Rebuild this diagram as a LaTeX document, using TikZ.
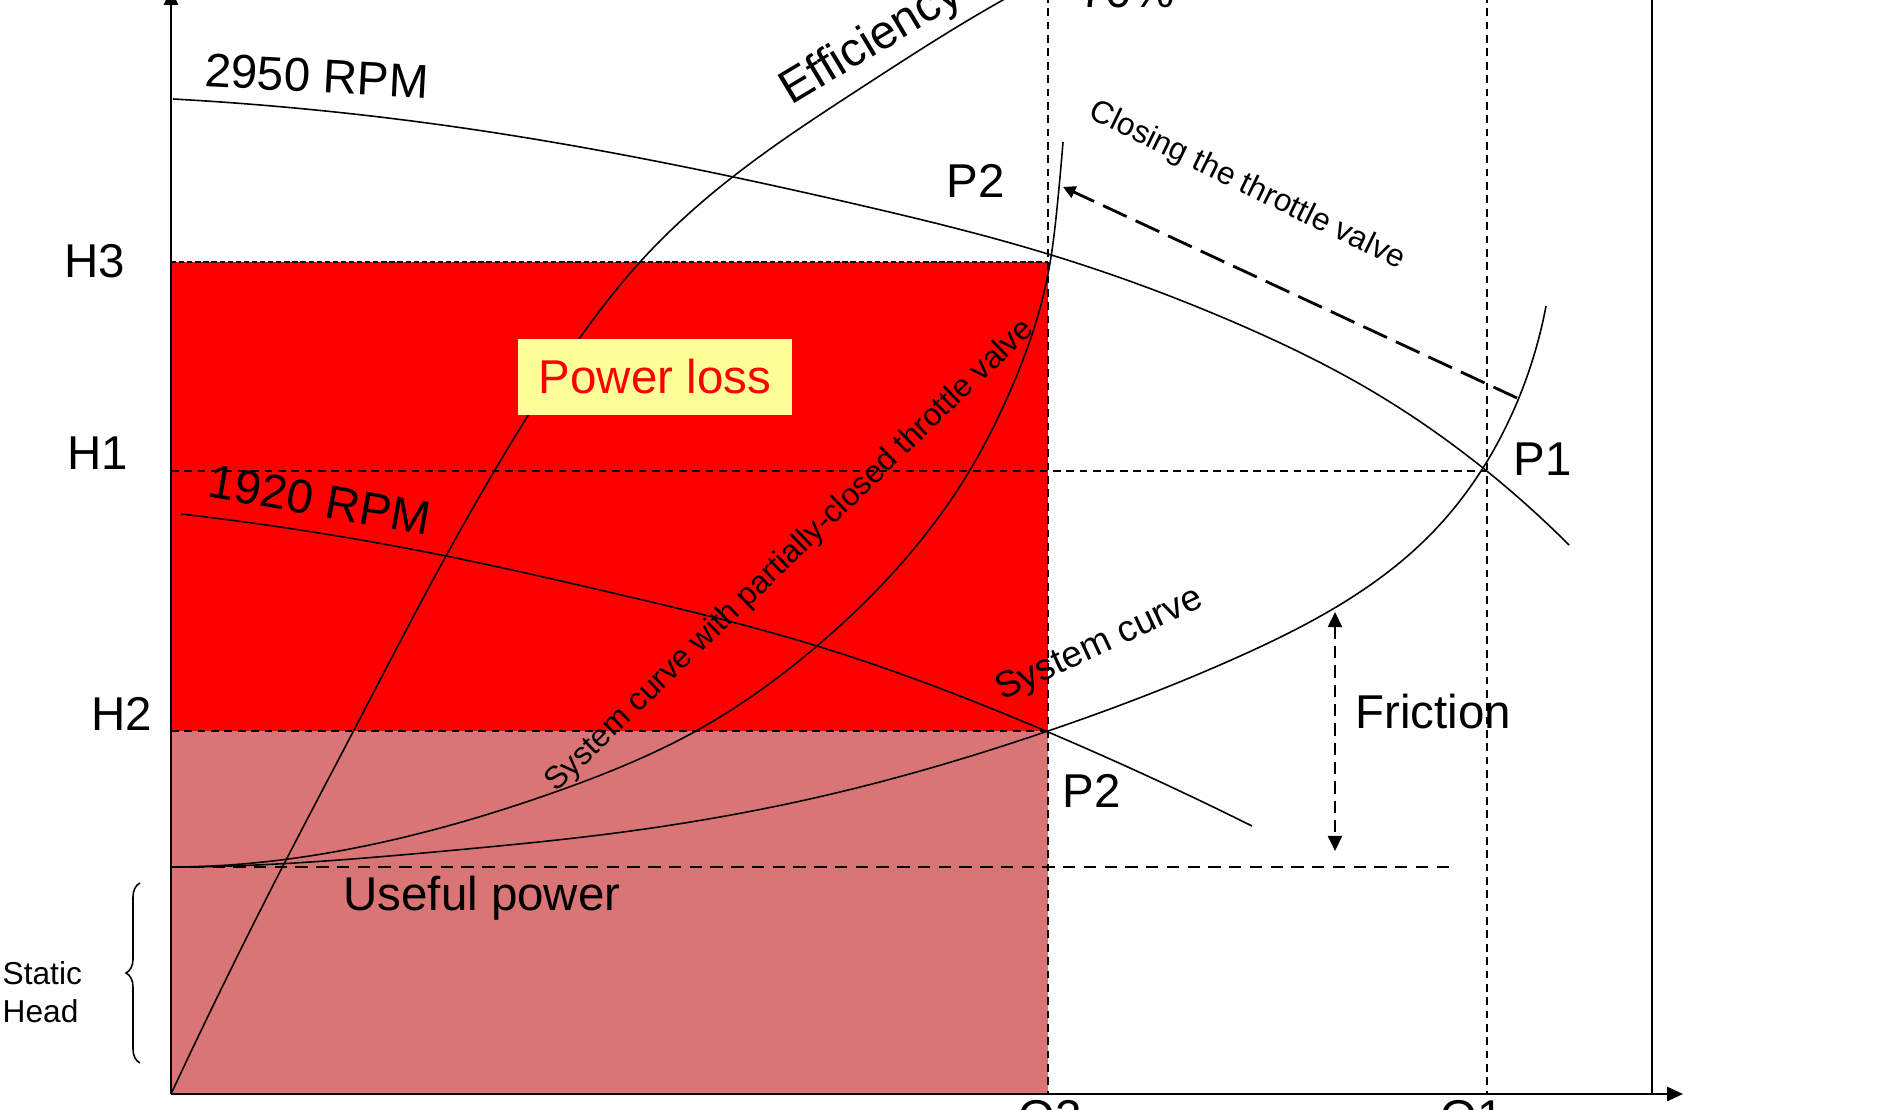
\documentclass[tikz,border=0pt]{standalone}
\usepackage{fontspec}
\setmainfont{Liberation Sans}
\usetikzlibrary{arrows.meta,decorations.pathreplacing,hobby}
\definecolor{lossred}{rgb}{1,0,0}
\definecolor{usefulpink}{RGB}{217,117,117}
\definecolor{labelyellow}{RGB}{255,255,153}

\begin{document}
\begin{tikzpicture}[
    x=0.01cm, y=-0.01cm,
    curve/.style={line width=0.45pt, use Hobby shortcut},
    axis/.style={line width=0.65pt, -{Triangle[length=4.5pt,width=4pt]}},
    guide/.style={line width=0.45pt, dash pattern=on 2.2pt off 1.6pt},
    biglabel/.style={font=\fontsize{13.5}{16}\selectfont, inner sep=0pt},
    smalllabel/.style={font=\fontsize{9}{10.8}\selectfont, inner sep=0pt}
    ]
  \useasboundingbox (0,0) rectangle (1883,1110);
  \clip (0,0) rectangle (1883,1110);

  % operating points
  \coordinate (O) at (171,1094);
  \coordinate (xend) at (1683,1094);
  \coordinate (yend) at (171,-11);
  \coordinate (H3) at (171,262);
  \coordinate (P2top) at (1048,262);
  \coordinate (H1) at (171,471);
  \coordinate (P1) at (1487,471);
  \coordinate (H2) at (171,731);
  \coordinate (P2) at (1048,731);
  \coordinate (S) at (171,867);
  \coordinate (Send) at (1456,867);
  \coordinate (Q2) at (1048,1094);
  \coordinate (Q2top) at (1048,-5);
  \coordinate (Q1) at (1487,1094);
  \coordinate (Q1top) at (1487,-5);
  \coordinate (frame) at (1652,1094);
  \coordinate (frametop) at (1652,-5);

  % power areas
  \fill[lossred] (H3) rectangle (P2);
  \fill[usefulpink] (H2) rectangle (Q2);
  \draw[line width=0.3pt, dash pattern=on 1.5pt off 0.8pt] (H3) -- (P2top);

  % guides
  \draw[guide] (Q2top) -- (Q2);
  \draw[guide] (Q1top) -- (Q1);
  \draw[guide] (H1) -- (P1);
  \draw[guide] (H2) -- (P2);
  \draw[line width=0.5pt, dash pattern=on 3.5pt off 2.4pt] (S) -- (Send);

  % axes
  \draw[axis] (O) -- (yend);
  \draw[axis] (O) -- (xend);
  \draw[line width=0.65pt] (frametop) -- (frame);

  % pump curves
  \draw[curve] (173,99) .. (456,127) .. (855,204) .. (1048,254) .. (1238,324) .. (1365,387) .. (1483,468) .. (1569,545);
  \draw[curve] (181,514) .. (446,556) .. (600,590) .. (817,646) .. (1048,732) .. (1252,826);
  % system curves
  \draw[curve] ([out angle=0]171,867) .. (456,850) .. (600,835) .. (823,796) .. (1048,731) .. (1238,657) .. (1429,536) .. (1518,400) .. (1546,306);
  \draw[curve] ([out angle=0]171,867) .. (405,837) .. (558,791) .. (696,731) .. (817,646) .. (900,565) .. (967,475) .. (1008,396) .. (1036,322) .. (1050,263) .. (1057,208) .. (1063,142);
  % efficiency
  \draw[curve] (171,1094) .. (285,862) .. (354,730) .. (446,556) .. (492,475) .. (579,339) .. (640,262) .. (739,172) .. (864,86) .. (1003,0) .. (1060,-30);

  % arrows
  \coordinate (fa) at (1335,612);
  \coordinate (fb) at (1335,851);
  \draw[line width=0.6pt, dash pattern=on 3.5pt off 2pt, {Triangle[length=4.3pt,width=4pt]}-{Triangle[length=4.3pt,width=4pt]}] (fa) -- (fb);
  \coordinate (ca) at (1517,398);
  \coordinate (cb) at (1063,187);
  \draw[line width=0.8pt, dash pattern=on 7.4pt off 2.8pt, -{Triangle[length=3.5pt,width=3.5pt]}] (ca) -- (cb);
  \coordinate (bracebot) at (140,1063);
  \coordinate (bracetop) at (140,883);
  \draw[line width=0.45pt, decorate, decoration={brace, amplitude=0.14cm}] (bracebot) -- (bracetop);

  % labels
  \node[biglabel, rotate=-3] (rpmhigh) at (317,76) {2950 RPM};
  \node[biglabel, rotate=-10] (rpmlow) at (320,500) {1920 RPM};
  \node[biglabel] (h3) at (95,261) {H3};
  \node[biglabel] (h1) at (98,453) {H1};
  \node[biglabel] (h2) at (122,714) {H2};
  \node[biglabel] (p2up) at (976,181) {P2};
  \node[biglabel] (p2down) at (1092,791) {P2};
  \node[biglabel] (p1) at (1543,459) {P1};
  \node[biglabel] (friction) at (1433,712) {Friction};
  \node[biglabel, anchor=base] (useful) at (482,910) {Useful power};
  \node[biglabel, rotate=31] (eff) at (872,43) {Efficiency};
  \node[biglabel] (pct) at (1127,-9) {70\%};
  \node[biglabel] (q2) at (1050,1121) {Q2};
  \node[biglabel] (q1) at (1472,1121) {Q1};
  \node[fill=labelyellow, text=lossred, minimum width=2.73cm, minimum height=0.76cm, font=\fontsize{13.5}{16}\selectfont] (loss) at (655,377) {Power loss};
  \node[smalllabel, rotate=-26] (closing) at (1247,186) {Closing the throttle valve};
  \node[smalllabel, rotate=44] (throttled) at (790,556) {System curve with partially-closed throttle valve};
  \node[smalllabel, font=\fontsize{10.5}{12}\selectfont, rotate=25] (syscurve) at (1100,645) {System curve};
  \node[smalllabel, align=left, anchor=west] (statichead) at (2,992) {Static\\Head};
\end{tikzpicture}
\end{document}
